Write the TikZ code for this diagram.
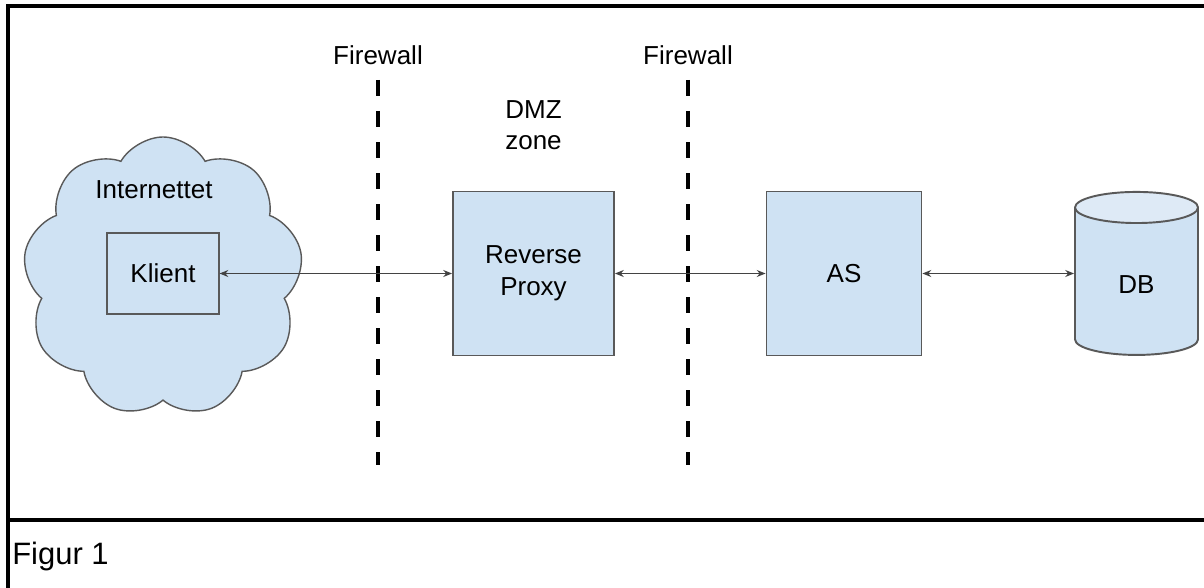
\documentclass[tikz,border=0pt]{standalone}
\usepackage{fontspec}
\setmainfont{Liberation Sans}
\usetikzlibrary{shapes.geometric,shapes.symbols,arrows.meta,positioning}
\definecolor{boxblue}{HTML}{CFE2F3}
\definecolor{topblue}{HTML}{DEEAF6}
\definecolor{edgegray}{HTML}{595959}
\definecolor{arrowgray}{HTML}{434343}
\tikzset
{
    label/.style    = {font=\fontsize{14.8}{18}\selectfont, align=center, inner sep=0pt},
    box/.style      = {rectangle, draw=edgegray, line width=1.1pt, fill=boxblue, align=center, font=\fontsize{14.8}{18}\selectfont},
    netcloud/.style = {cloud, cloud puffs=9, cloud puff arc=120, aspect=1, draw=edgegray, line width=0.8pt, fill=boxblue, minimum width=5.6cm, minimum height=5.6cm},
    client/.style   = {rectangle, draw=edgegray, line width=0.6pt, align=center, minimum width=2.24cm, minimum height=1.62cm, font=\fontsize{14.8}{18}\selectfont},
    database/.style = {cylinder, shape border rotate=90, aspect=0.65, draw=edgegray, line width=1.1pt, cylinder uses custom fill, cylinder body fill=boxblue, cylinder end fill=topblue, minimum width=2.46cm, minimum height=3.26cm, font=\fontsize{14.8}{18}\selectfont},
    firewall/.style = {line width=1.8pt, dash pattern=on 0.32cm off 0.30cm},
    arrow/.style    = {<->, >={Stealth[length=5pt, width=4pt]}, line width=0.6pt, draw=arrowgray},
    frame/.style    = {line width=2.2pt, black}
}

\begin{document}
\begin{tikzpicture}
	\useasboundingbox (0,0) rectangle (24.08,11.74);
	% figure frame
	\draw [frame] (0.16,-0.1) -- (0.16,11.62) -- (24.2,11.62);
	\draw [frame] (0.16,1.34) -- (24.2,1.34);
	\node (caption) [label, anchor=west, font=\fontsize{17.6}{20}\selectfont] at (0.24,0.62) {Figur 1};

	% nodes
	\node (net) [netcloud] at (3.26,6.2) {};
	\node (inet) [label] at (3.08,7.94) {Internettet};
	\node (klient) [client] at (3.26,6.27) {Klient};
	\node (proxy) [box, minimum width=3.22cm, minimum height=3.28cm] at (10.67,6.27) {Reverse\\Proxy};
	\node (as) [box, right of=proxy, xshift=5.21cm, minimum width=3.1cm, minimum height=3.28cm] {AS};
	\node (db) [database] at (22.73,6.04) {DB};
	\node (dmz) [label, above of=proxy, yshift=1.97cm] {DMZ\\zone};

	% firewalls
	\node (fw1) [label] at (7.56,10.64) {Firewall};
	\node (fw2) [label] at (13.76,10.64) {Firewall};
	\coordinate (fw1top) at (7.56,10.14);
	\coordinate (fw1bot) at (7.56,2.44);
	\coordinate (fw2top) at (13.76,10.14);
	\coordinate (fw2bot) at (13.76,2.44);
	\draw [firewall] (fw1top) -- (fw1bot);
	\draw [firewall] (fw2top) -- (fw2bot);

	% connections
	\draw [arrow] (klient.east) -- (proxy.west);
	\draw [arrow] (proxy.east) -- (as.west);
	\draw [arrow] (as.east) -- (as.east -| db.west);

\end{tikzpicture}
\end{document}
